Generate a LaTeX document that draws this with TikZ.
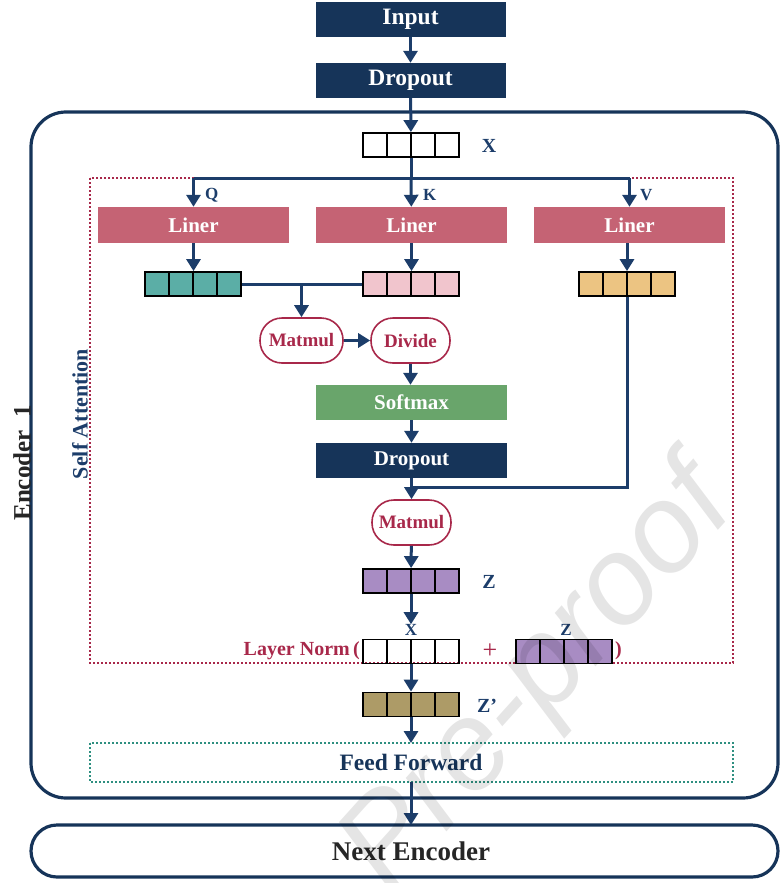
\documentclass[tikz,border=0pt]{standalone}
\usepackage{fontspec}
\setmainfont{Liberation Serif}
\newfontfamily\wmfont{Liberation Sans}
\usetikzlibrary{arrows.meta,calc}
\definecolor{navy}{HTML}{163459}
\definecolor{arrc}{HTML}{1C3D6A}
\definecolor{liner}{HTML}{C56374}
\definecolor{soft}{HTML}{69A56B}
\definecolor{teal}{HTML}{5BAEA6}
\definecolor{pinkc}{HTML}{F1C5CD}
\definecolor{orng}{HTML}{ECC482}
\definecolor{purp}{HTML}{A88CC3}
\definecolor{olive}{HTML}{AD9B67}
\definecolor{crim}{HTML}{A8284A}
\definecolor{dteal}{HTML}{2E8F80}
\definecolor{dgray}{HTML}{262626}
\tikzset{
  x=1pt, y=-1pt,
  box/.style={rectangle, inner sep=0pt, text=white, font=\fontsize{21}{21}\selectfont\bfseries},
  navybox/.style={box, fill=navy, minimum width=190pt, minimum height=35pt},
  linerbox/.style={box, fill=liner, minimum width=191pt, minimum height=36pt},
  softbox/.style={box, fill=soft, minimum width=191pt, minimum height=35pt},
  opnode/.style={rectangle, rounded corners=22pt, draw=crim, line width=1.6pt, fill=white, minimum height=45pt, inner sep=0pt, text=crim, font=\fontsize{19}{19}\selectfont\bfseries},
  vecbox/.style={draw=black, line width=1.8pt, minimum width=96pt, minimum height=24pt, inner sep=0pt,
    path picture={\foreach \i in {1,2,3}{\draw[line width=1.5pt] ([xshift=\i*24pt]path picture bounding box.south west) -- ([xshift=\i*24pt]path picture bounding box.north west);}}},
  lbl/.style={text=arrc, font=\fontsize{20}{20}\selectfont\bfseries, inner sep=0pt},
  slbl/.style={text=arrc, font=\fontsize{17}{17}\selectfont\bfseries, inner sep=0pt},
  conn/.style={draw=arrc, line width=3pt},
  arr/.style={conn, -{Triangle[length=12pt,width=14pt]}},
}
\begin{document}
\begin{tikzpicture}
\useasboundingbox (0,0) rectangle (781,883);
% outer frames
\draw[draw=navy, line width=3.2pt, rounded corners=35pt] (31,112) rectangle (778,798);
\draw[draw=navy, line width=3.2pt, rounded corners=26pt] (31,825) rectangle (778,877);
\draw[draw=crim, line width=2pt, dotted] (90,178) rectangle (733,663);
\draw[draw=dteal, line width=2pt, dotted] (90,743) rectangle (733,782);

% top boxes
\node[navybox, font=\fontsize{23.5}{23.5}\selectfont\bfseries] (inp) at (410.5,19.5) {Input};
\node[navybox, font=\fontsize{23.5}{23.5}\selectfont\bfseries] (drop1) at (410.5,80.5) {Dropout};
\node[vecbox] (xvec) at (411,145) {};
\node[lbl] (xl) at (489,146) {X};

% liners
\node[linerbox] (lq) at (193.5,225) {Liner};
\node[linerbox] (lk) at (411.5,225) {Liner};
\node[linerbox] (lv) at (629.5,225) {Liner};
\node[slbl, anchor=west] (ql) at (205,195) {Q};
\node[slbl, anchor=west] (kl) at (423,195) {K};
\node[slbl, anchor=west] (vl) at (640,195) {V};

\node[vecbox, fill=teal] (qvec) at (193,284) {};
\node[vecbox, fill=pinkc] (kvec) at (411,284) {};
\node[vecbox, fill=orng] (vvec) at (627,284) {};

\node[opnode, minimum width=83pt] (mm1) at (301.5,340.5) {Matmul};
\node[opnode, minimum width=79pt] (div) at (410.5,340.5) {Divide};
\node[softbox] (soft) at (411.5,402.5) {Softmax};
\node[navybox, minimum width=191pt] (drop2) at (411.5,460.5) {Dropout};
\node[opnode, minimum width=79pt] (mm2) at (411.5,522.5) {Matmul};
\node[vecbox, fill=purp] (zvec) at (411,581) {};
\node[lbl] (zl) at (489,582) {Z};

\node[vecbox] (x2vec) at (411,651.5) {};
\node[vecbox, fill=purp] (z2vec) at (564,651.5) {};
\node[slbl] (x2l) at (411,630) {X};
\node[slbl] (z2l) at (566,630) {Z};
\node[text=crim, font=\fontsize{26}{26}\selectfont, inner sep=0pt] (plus) at (490,651) {+};
\node[text=crim, font=\fontsize{20}{20}\selectfont\bfseries, anchor=east, inner sep=0pt] (ln) at (360,651) {Layer Norm\,(};
\node[text=crim, font=\fontsize{20}{20}\selectfont\bfseries, anchor=west, inner sep=0pt] (rp) at (615,651) {)};

\node[vecbox, fill=olive] (zpvec) at (411,704.5) {};
\node[lbl] (zpl) at (487,706) {Z'};

\node[text=navy, font=\fontsize{23.5}{23.5}\selectfont\bfseries, inner sep=0pt] (ff) at (411,762) {Feed Forward};
\coordinate (fftop) at (411,743);
\coordinate (ffbot) at (411,782);
\node[text=dgray, font=\fontsize{27}{27}\selectfont\bfseries, inner sep=0pt] (next) at (411,851) {Next Encoder};
\coordinate (nexttop) at (411,825);

\node[rotate=90, text=dgray, font=\fontsize{25}{25}\selectfont\bfseries, inner sep=0pt] (enc) at (22,463) {Encoder\ \ 1};
\node[rotate=90, text=arrc, font=\fontsize{22}{22}\selectfont\bfseries, inner sep=0pt] (sa) at (80,414) {Self Attention};

% connectors
\draw[arr] (inp) -- (drop1);
\draw[arr] (drop1) -- (xvec);
\coordinate (split) at (411,178);
\coordinate (sq) at (lq.north |- split);
\coordinate (sv) at (lv.north |- split);
\draw[conn] (xvec.south) -- (split);
\draw[conn] (sq) -- (sv);
\draw[arr] (sq) -- (lq);
\draw[arr] (split) -- (lk);
\draw[arr] (sv) -- (lv);
\draw[arr] (lq) -- (qvec.north -| lq);
\draw[arr] (lk) -- (kvec.north -| lk);
\draw[arr] (lv.south -| vvec) -- (vvec);
\draw[conn] (qvec.east) -- (kvec.west);
\coordinate (br) at (mm1.north |- qvec.east);
\draw[arr] (br) -- (mm1);
\draw[arr] (mm1) -- (div);
\draw[arr] (div) -- (soft.north -| div);
\draw[arr] (soft) -- (drop2);
\coordinate (vj) at (vvec.south |- 0,487);
\coordinate (vm) at (mm2.north |- vj);
\draw[conn] (vvec.south) -- (vj) -- (vm);
\draw[arr] (drop2) -- (mm2);
\draw[arr] (mm2) -- (zvec);
\draw[arr] (zvec.south) -- (x2l.north);
\draw[arr] (x2vec) -- (zpvec);
\draw[arr] (zpvec) -- (fftop);
\draw[arr] (ffbot) -- (nexttop);

% watermark
\node[rotate=48, text=black, opacity=0.1, font=\fontsize{125}{125}\wmfont\itshape, inner sep=0pt] (wm) at (540,680) {Pre-proof};
\end{tikzpicture}
\end{document}
